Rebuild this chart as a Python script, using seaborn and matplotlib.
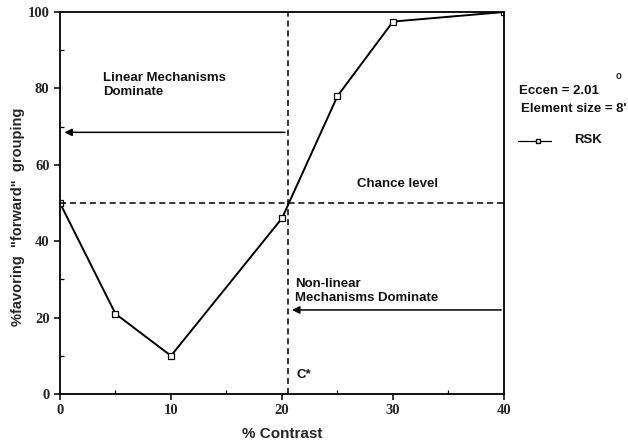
import matplotlib
matplotlib.use("Agg")
import matplotlib.pyplot as plt
from matplotlib.ticker import MultipleLocator
import seaborn as sns
import pandas as pd

# Proportion of "forward" grouping responses versus stimulus contrast
contrast = [0, 5, 10, 20, 25, 30, 40]
pct_forward = [50, 21, 10, 46, 78, 97.5, 100]
series_name = "RSK"

chance_level = 50
c_star = 20.5
linear_arrow_y = 68.5
nonlinear_arrow_y = 22

x_ticks = [0, 10, 20, 30, 40]
y_ticks = [0, 20, 40, 60, 80, 100]

df = pd.DataFrame({"contrast": contrast, "pct": pct_forward, "observer": series_name})

sns.set_style("ticks")
plt.rcParams["font.family"] = ["Liberation Sans", "DejaVu Sans"]

fig = plt.figure(figsize=(6.28, 4.45), dpi=100)
ax = fig.add_axes([0.0955, 0.1146, 0.707, 0.8584])

sns.lineplot(data=df, x="contrast", y="pct", ax=ax, color="black", linewidth=1.4,
             marker="s", markersize=4.5, markerfacecolor="white",
             markeredgecolor="black", markeredgewidth=0.9, legend=False)

# Reference lines: chance level and critical contrast C*
ax.axhline(chance_level, color="black", linestyle=(0, (4, 2.5)), linewidth=1.1)
ax.axvline(c_star, color="black", linestyle=(0, (4, 2.5)), linewidth=1.1)

arrow_kw = dict(arrowstyle="-|>", color="black", lw=1.1, mutation_scale=11)
ax.annotate("", xy=(0.15, linear_arrow_y), xytext=(c_star, linear_arrow_y),
            arrowprops=arrow_kw)
ax.annotate("", xy=(c_star + 0.15, nonlinear_arrow_y), xytext=(40, nonlinear_arrow_y),
            arrowprops=arrow_kw)

txt = dict(fontsize=9.5, fontweight="bold", color="#111111")
ax.text(3.9, 77.5, "Linear Mechanisms\nDominate", ha="left", va="bottom",
        linespacing=1.25, **txt)
ax.text(26.8, 53.5, "Chance level", ha="left", va="bottom", **txt)
ax.text(21.2, 23.5, "Non-linear\nMechanisms Dominate", ha="left", va="bottom",
        linespacing=1.25, **txt)
ax.text(21.3, 3.5, "C*", ha="left", va="bottom", **txt)

# Side notes and series key
fig.text(0.826, 0.795, "Eccen = 2.01", ha="left", va="center", **txt)
fig.text(0.980, 0.829, "o", ha="left", va="center", fontsize=7, fontweight="bold")
fig.text(0.829, 0.755, "Element size = 8'", ha="left", va="center", **txt)
fig.add_artist(plt.Line2D([0.825, 0.878], [0.683, 0.683], color="black", lw=0.9,
                          transform=fig.transFigure))
fig.add_artist(plt.Line2D([0.857], [0.683], color="black", lw=0, marker="s",
                          markersize=3.5, markerfacecolor="white",
                          markeredgecolor="black", transform=fig.transFigure))
fig.text(0.915, 0.685, series_name, ha="left", va="center", **txt)

ax.set_xlim(0, 40)
ax.set_ylim(0, 100)
ax.set_xticks(x_ticks)
ax.set_yticks(y_ticks)
ax.xaxis.set_minor_locator(MultipleLocator(5))
ax.yaxis.set_minor_locator(MultipleLocator(10))
ax.tick_params(which="major", direction="out", length=4, width=1.1, color="black")
ax.tick_params(which="minor", direction="in", length=3, width=0.9, color="black")

tick_font = dict(family=["Liberation Serif", "DejaVu Serif"], weight="bold", size=10.5)
ax.set_xticklabels([str(t) for t in x_ticks], fontdict=tick_font)
ax.set_yticklabels([str(t) for t in y_ticks], fontdict=tick_font)

for side in ["left", "right", "top", "bottom"]:
    ax.spines[side].set_visible(True)
    ax.spines[side].set_color("black")
    ax.spines[side].set_linewidth(1.3)

ax.set_xlabel("% Contrast", fontsize=11, fontweight="bold", labelpad=7)
ax.set_ylabel('%favoring  "forward"  grouping', fontsize=10.5, fontweight="bold")
ax.yaxis.set_label_coords(-0.079, 0.463)

fig.savefig("out.png", dpi=100)
